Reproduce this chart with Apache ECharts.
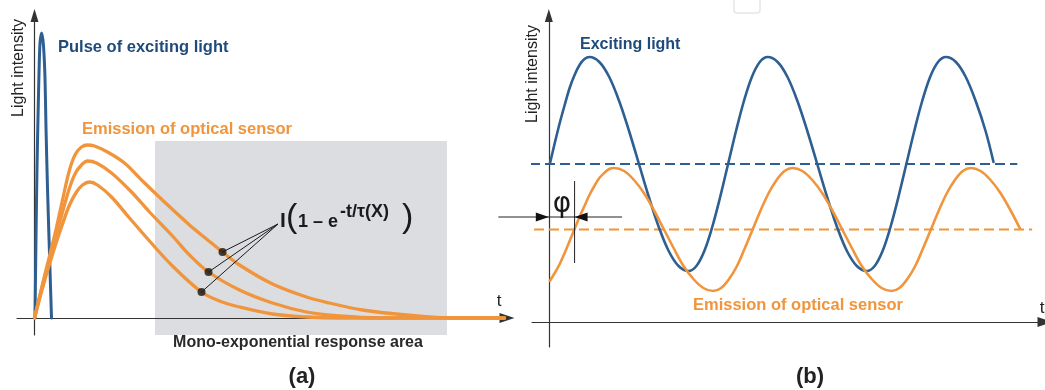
<!DOCTYPE html>
<html>
<head>
<meta charset="utf-8">
<script src="https://cdn.jsdelivr.net/npm/echarts@6/dist/echarts.min.js"></script>
<style>
  html, body { margin: 0; padding: 0; background: #fff; }
  #c { width: 1045px; height: 390px; }
</style>
</head>
<body>
<div id="c"></div>
<script>
// ---------- (a) pulsed excitation and decaying emission ----------
const pulseT = [0.5, 1.5, 2.5, 3.5, 4.5, 5.5, 7.2, 9, 10.5, 11.5, 13, 14.5, 17];
const pulseI = [0, 80, 150, 200, 245, 275, 285, 272, 240, 190, 130, 80, 0];

const emisHighT = [0, 10, 20, 28, 35, 41, 47, 53, 60, 73, 90, 107, 130, 155, 172, 188, 205, 238, 272, 295, 328, 362, 395, 420, 470];
const emisHighI = [0, 42, 82, 118, 148, 164, 171, 173, 172, 166, 155, 138, 116, 93, 79, 66, 53, 34, 21, 15, 8, 4, 1, 0, 0];

const emisMidT = [0, 10, 20, 28, 35, 41, 47, 53, 62, 77, 97, 115, 138, 155, 174, 205, 238, 272, 305, 345, 470];
const emisMidI = [0, 40, 77, 106, 130, 145, 153, 157, 155, 145, 126, 106, 82, 63, 46, 28, 15, 6, 2, 0, 0];

const emisLowT = [0, 10, 20, 28, 35, 42, 48, 55, 63, 77, 95, 115, 138, 167, 185, 205, 238, 272, 305, 470];
const emisLowI = [0, 37, 70, 94, 113, 126, 133, 136, 133, 121, 100, 77, 52, 26, 17, 11, 4, 1, 0, 0];

// points on the three decays picked out by the formula
const markT = [188, 174, 167];
const markI = [66, 46, 26];

// mono-exponential response window: [t start, t end], [I low, I high]
const windowT = [120.5, 412.5];
const windowI = [-17, 177];

// ---------- (b) modulated excitation and phase-shifted emission ----------
const excT = [1, 6, 11, 16, 21, 26, 31, 36, 41, 51, 61, 71, 81, 91, 101, 111, 121, 131, 141,
  149, 157, 165, 173, 181, 189, 197, 205, 213, 221, 231, 241, 251, 261, 271, 281, 291, 301, 311, 321,
  329, 337, 345, 353, 361, 369, 377, 385, 393, 401, 411, 421, 431, 441, 449];
const excI = [158, 179, 199, 217, 234, 247, 257, 263, 265, 260, 245, 221, 191, 158, 125, 95, 71, 56, 51,
  56, 71, 95, 125, 158, 191, 221, 245, 260, 265, 260, 245, 221, 191, 158, 125, 95, 71, 56, 51,
  56, 71, 95, 125, 158, 191, 221, 245, 260, 265, 260, 245, 221, 191, 160];

const emT = [1, 6, 11, 16, 21, 26, 31, 36, 41, 46, 51, 56, 61, 66, 76, 86, 96, 106, 116, 126, 136, 146, 156, 166,
  174, 182, 190, 198, 206, 214, 222, 230, 238, 246, 256, 266, 276, 286, 296, 306, 316, 326, 336, 346,
  354, 362, 370, 378, 386, 394, 402, 410, 418, 426, 436, 446, 456, 466, 476];
const emI = [41, 49, 58, 69, 81, 93, 105, 116, 127, 136, 144, 149, 153, 154, 151, 142, 129, 112, 93, 74, 56, 43, 34, 31,
  34, 43, 56, 74, 93, 112, 129, 142, 151, 154, 151, 142, 129, 112, 93, 74, 56, 43, 34, 31,
  34, 43, 56, 74, 93, 112, 129, 142, 151, 154, 151, 142, 129, 112, 93];

// mean levels (dashed) with their time spans
const excMeanT = [-19, 473];
const excMeanI = 158;
const emMeanT = [-15, 488];
const emMeanI = 92.5;

// ---------- styling ----------
const BLUE = '#2e5f92';
const BLUE_TXT = '#1f4b7b';
const ORANGE = '#f0953b';
const INK = '#2a2a2a';
const FONT = "'Liberation Sans', Arial, Helvetica, sans-serif";

const zip = (xs, ys) => xs.map((x, i) => [x, ys[i]]);

function curve(grid, xs, ys, color, width, z, smooth) {
  return {
    type: 'line', xAxisIndex: grid, yAxisIndex: grid,
    data: zip(xs, ys), showSymbol: false, symbol: 'none',
    smooth: smooth, z: z, silent: true, clip: false,
    lineStyle: { color: color, width: width, join: 'round', cap: 'round' }
  };
}
function meanLine(grid, span, level, color) {
  return {
    type: 'line', xAxisIndex: grid, yAxisIndex: grid,
    data: [[span[0], level], [span[1], level]], showSymbol: false, symbol: 'none',
    z: 3, silent: true,
    lineStyle: { color: color, width: 2, type: [10, 5] }
  };
}
function axisX(grid, min, max) {
  return {
    gridIndex: grid, type: 'value', min: min, max: max, z: 2,
    axisLine: { show: true, onZero: true, symbol: ['none', 'triangle'], symbolSize: [10, 15],
      lineStyle: { color: '#333', width: 1.2 } },
    axisTick: { show: false }, axisLabel: { show: false }, splitLine: { show: false }
  };
}
function axisY(grid, min, max) {
  return {
    gridIndex: grid, type: 'value', min: min, max: max, z: 2,
    axisLine: { show: true, onZero: true, symbol: ['none', 'triangle'], symbolSize: [8, 13],
      lineStyle: { color: '#333', width: 1.2 } },
    axisTick: { show: false }, axisLabel: { show: false }, splitLine: { show: false }
  };
}

const chart = echarts.init(document.getElementById('c'), null, { renderer: 'canvas' });

chart.setOption({
  animation: false,
  backgroundColor: '#fff',
  grid: [
    { left: 17, top: 15.5, width: 490, height: 319.5 },
    { left: 532, top: 15.5, width: 518, height: 331.5 }
  ],
  xAxis: [axisX(0, -17.5, 472.5), axisX(1, -17, 501)],
  yAxis: [axisY(0, -17, 302.5), axisY(1, -25, 306.5)],
  series: [
    {
      type: 'custom', xAxisIndex: 0, yAxisIndex: 0, z: 1, silent: true, clip: false,
      data: [[windowT[0], windowT[1], windowI[0], windowI[1]]],
      encode: { x: [0, 1], y: [2, 3] },
      renderItem: function (params, api) {
        const a = api.coord([api.value(0), api.value(3)]);
        const b = api.coord([api.value(1), api.value(2)]);
        return { type: 'rect', shape: { x: a[0], y: a[1], width: b[0] - a[0], height: b[1] - a[1] },
          style: { fill: '#dcdde0' } };
      }
    },
    curve(0, pulseT, pulseI, BLUE, 3, 3, 0.25),
    curve(0, emisLowT, emisLowI, ORANGE, 3.3, 4, 0.35),
    curve(0, emisMidT, emisMidI, ORANGE, 3.3, 4, 0.35),
    curve(0, emisHighT, emisHighI, ORANGE, 3.3, 4, 0.35),
    {
      type: 'scatter', xAxisIndex: 0, yAxisIndex: 0, z: 6, silent: true,
      data: zip(markT, markI), symbol: 'circle', symbolSize: 8,
      itemStyle: { color: '#151515' }
    },
    meanLine(1, excMeanT, excMeanI, BLUE),
    meanLine(1, emMeanT, emMeanI, ORANGE),
    curve(1, excT, excI, BLUE, 2.6, 4, 0.35),
    curve(1, emT, emI, ORANGE, 2.6, 5, 0.35)
  ]
});

// ---------- annotations ----------
const toPx = (g, x, y) => chart.convertToPixel({ gridIndex: g }, [x, y]);

function txt(t, x, y, opt) {
  return {
    type: 'text', z: 20, silent: true, x: x, y: y, rotation: opt.rot || 0,
    style: {
      text: t, x: 0, y: 0, fill: opt.fill || INK,
      fontFamily: opt.family || FONT, fontSize: opt.size || 16, fontWeight: opt.weight || 'normal',
      align: opt.align || 'left', verticalAlign: 'middle'
    }
  };
}

const g = [];
// axis titles
g.push(txt('Light intensity', 19, 68, { rot: Math.PI / 2, align: 'center', size: 16, fill: '#222' }));
g.push(txt('Light intensity', 533, 74, { rot: Math.PI / 2, align: 'center', size: 16, fill: '#222' }));
g.push(txt('t', 499, 301, { align: 'center', size: 17, fill: '#222' }));
g.push(txt('t', 1042, 308, { align: 'center', size: 17, fill: '#222' }));

// series captions
g.push(txt('Pulse of exciting light', 58, 47, { size: 16.5, weight: 'bold', fill: BLUE_TXT }));
g.push(txt('Emission of optical sensor', 82, 129, { size: 16.5, weight: 'bold', fill: ORANGE }));
g.push(txt('Exciting light', 580, 45, { size: 16, weight: 'bold', fill: BLUE_TXT }));
g.push(txt('Emission of optical sensor', 693, 305, { size: 16.5, weight: 'bold', fill: ORANGE }));
g.push(txt('Mono-exponential response area', 298, 343, { align: 'center', size: 16, weight: 'bold', fill: INK }));
g.push(txt('(a)', 302, 377, { align: 'center', size: 22, weight: 'bold', fill: '#222' }));
g.push(txt('(b)', 810, 377, { align: 'center', size: 22, weight: 'bold', fill: '#222' }));

// decay law
g.push(txt('I', 280, 221, { size: 21, weight: 'bold', fill: '#1a1a1a' }));
g.push(txt('(', 286, 218, { size: 34, fill: '#1a1a1a' }));
g.push(txt('1 \u2013 e', 298, 222, { size: 18, weight: 'bold', fill: '#1a1a1a' }));
g.push(txt('-t/\u03c4(X)', 340, 212, { size: 18, weight: 'bold', fill: '#1a1a1a' }));
g.push(txt(')', 402, 218, { size: 34, fill: '#1a1a1a' }));

// leader lines from the formula to the marked points
const hub = toPx(0, 243.5, 94);
markT.forEach(function (t, i) {
  const p = toPx(0, t, markI[i]);
  g.push({ type: 'line', z: 19, silent: true,
    shape: { x1: hub[0], y1: hub[1], x2: p[0], y2: p[1] },
    style: { stroke: '#1a1a1a', lineWidth: 1 } });
});

// phase-shift marker
const yPhi = 105;
const hL = toPx(1, -51, yPhi), hR = toPx(1, 74, yPhi);
const tipA = toPx(1, 0, yPhi), tipB = toPx(1, 26, yPhi);
const vTop = toPx(1, 26, 141), vBot = toPx(1, 26, 59);
g.push({ type: 'line', z: 19, silent: true, shape: { x1: hL[0], y1: hL[1], x2: hR[0], y2: hR[1] },
  style: { stroke: '#222', lineWidth: 1 } });
g.push({ type: 'line', z: 19, silent: true, shape: { x1: vTop[0], y1: vTop[1], x2: vBot[0], y2: vBot[1] },
  style: { stroke: '#222', lineWidth: 1 } });
g.push({ type: 'polygon', z: 19, silent: true,
  shape: { points: [[tipA[0], tipA[1]], [tipA[0] - 13, tipA[1] - 4.5], [tipA[0] - 13, tipA[1] + 4.5]] },
  style: { fill: '#111' } });
g.push({ type: 'polygon', z: 19, silent: true,
  shape: { points: [[tipB[0], tipB[1]], [tipB[0] + 13, tipB[1] - 4.5], [tipB[0] + 13, tipB[1] + 4.5]] },
  style: { fill: '#111' } });
g.push(txt('\u03c6', 562, 205, { align: 'center', size: 28, fill: '#1a1a1a', family: "'DejaVu Sans', sans-serif" }));

// faint frame at the top edge
g.push({ type: 'rect', z: 1, silent: true, shape: { x: 734, y: -4, width: 26, height: 17, r: 3 },
  style: { fill: 'none', stroke: '#e6e6e6', lineWidth: 1.5 } });

chart.setOption({ graphic: { elements: g } });
</script>
</body>
</html>
